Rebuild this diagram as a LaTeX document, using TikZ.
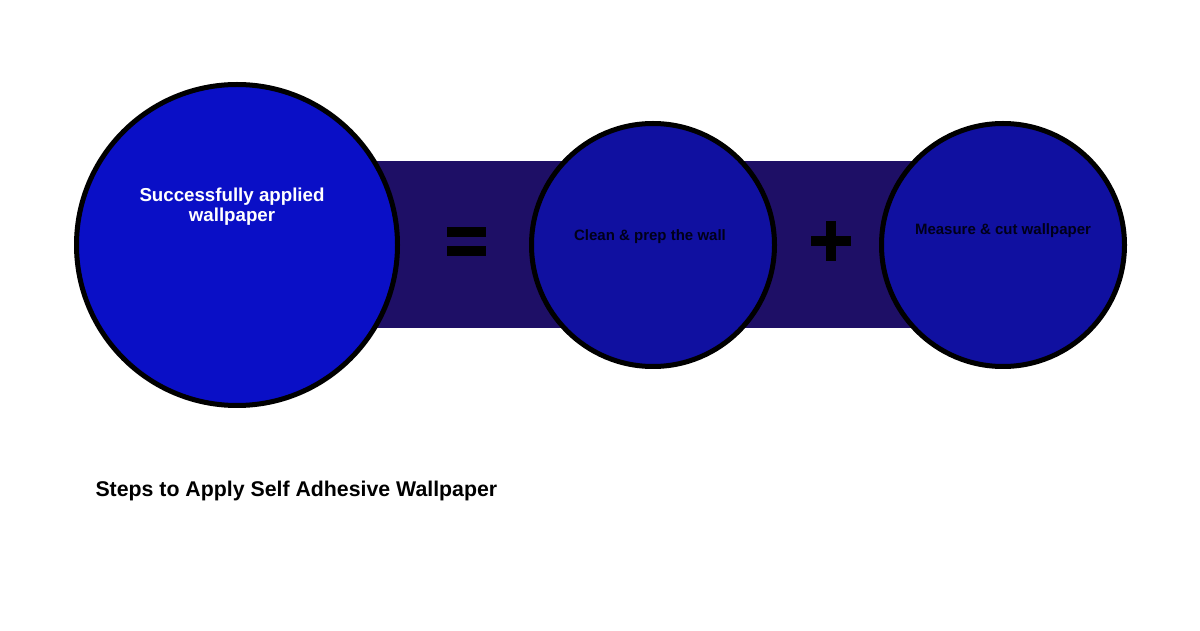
\documentclass[tikz,border=0pt]{standalone}
\usepackage{fontspec}
\setmainfont{Liberation Sans}
\usetikzlibrary{positioning,backgrounds}
\definecolor{bandblue}{HTML}{1E0F66}
\definecolor{bigblue}{HTML}{0A0FC6}
\definecolor{stepblue}{HTML}{1010A0}
\tikzset{
  stepcircle/.style={circle, draw=black, line width=5pt, fill=stepblue, minimum size=243pt, inner sep=0pt},
  bigcircle/.style={stepcircle, fill=bigblue, minimum size=321pt},
  steptext/.style={font=\fontsize{15}{17}\selectfont\bfseries, text=black!90!blue, align=center}
}
\begin{document}
\begin{tikzpicture}[x=1pt,y=1pt]
\useasboundingbox (0,0) rectangle (1200,630);

% kreise
\node[bigcircle] (applied) at (237,385) {};
\node[stepcircle] (clean) at (653,385) {};
\node[stepcircle] (measure) at (1003,385) {};

% hintergrund und band hinter den kreisen
\begin{scope}[on background layer]
\fill[white] (0,0) rectangle (1200,630);
\fill[bandblue] ([yshift=84]applied.center) rectangle ([yshift=-83]measure.center);
\end{scope}

% texte
\node[white, font=\fontsize{18.7}{20}\selectfont\bfseries, align=center] (appliedtext)
  at ([xshift=-5,yshift=38]applied.center) {Successfully applied\\wallpaper};
\node[steptext] (cleantext) at ([xshift=-3,yshift=8]clean.center) {Clean \& prep the wall};
\node[steptext] (measuretext) at ([yshift=14]measure.center) {Measure \& cut wallpaper};

% zeichen = und +
\coordinate (equals) at (466.5,388.5);
\coordinate (plus) at (831,389);
\fill[black] ([xshift=-19.5,yshift=4.5]equals) rectangle ([xshift=19.5,yshift=14.5]equals);
\fill[black] ([xshift=-19.5,yshift=-4.5]equals) rectangle ([xshift=19.5,yshift=-14.5]equals);
\fill[black] ([xshift=-20,yshift=-5]plus) rectangle ([xshift=20,yshift=5]plus);
\fill[black] ([xshift=-5,yshift=-20]plus) rectangle ([xshift=5,yshift=20]plus);

\node[anchor=west, font=\fontsize{21.3}{23}\selectfont\bfseries] (title) at (92,139) {Steps to Apply Self Adhesive Wallpaper};
\end{tikzpicture}
\end{document}
